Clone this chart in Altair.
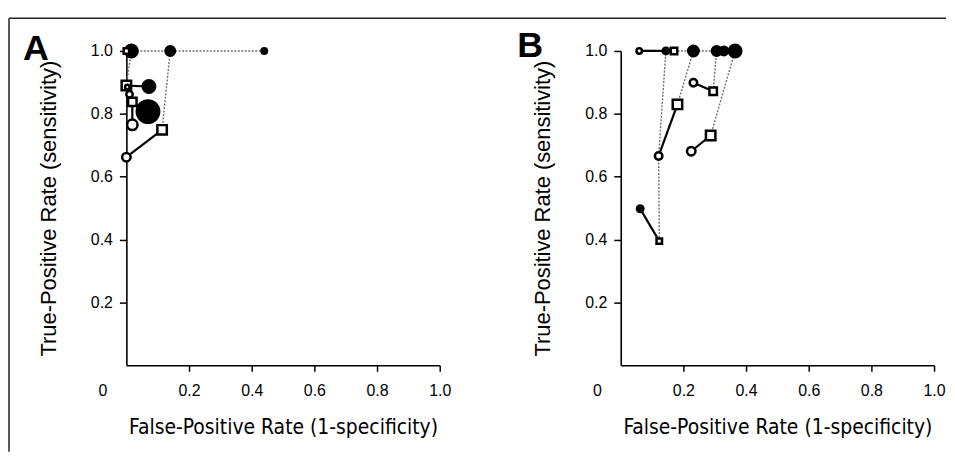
import altair as alt
import pandas as pd

# ---------------- Panel A ----------------
a_x = [0.440, 0.140, 0.016, 0.069, 0.072, 0.000, 0.000, 0.003, 0.019, 0.010, 0.019, 0.114, 0.000]
a_y = [1.000, 1.000, 1.000, 0.807, 0.887, 1.000, 0.890, 0.885, 0.838, 0.862, 0.765, 0.749, 0.662]
a_shape = ["circle", "circle", "circle", "circle", "circle", "square", "square", "circle",
           "square", "circle", "circle", "square", "circle"]
a_fill = ["black", "black", "black", "black", "black", "white", "white", "white",
          "white", "white", "white", "white", "white"]
a_diam = [8, 12, 15, 25, 15, 8, 12, 7, 11, 9, 13, 12, 11]

a_seg_x1 = [0.000, 0.114, 0.000, 0.000, 0.019, 0.000]
a_seg_y1 = [0.662, 0.749, 1.000, 0.890, 0.765, 0.890]
a_seg_x2 = [0.114, 0.140, 0.440, 0.016, 0.019, 0.072]
a_seg_y2 = [0.749, 1.000, 1.000, 1.000, 0.838, 0.887]
a_seg_style = ["solid", "dotted", "dotted", "dotted", "solid", "solid"]

# ---------------- Panel B ----------------
b_x = [0.062, 0.144, 0.232, 0.306, 0.329, 0.365, 0.059, 0.170, 0.123, 0.121, 0.181, 0.232, 0.295, 0.225, 0.287]
b_y = [0.498, 1.000, 1.000, 1.000, 1.000, 1.000, 1.000, 1.000, 0.395, 0.666, 0.830, 0.899, 0.872, 0.681, 0.731]
b_shape = ["circle", "circle", "circle", "circle", "circle", "circle", "circle", "square",
           "square", "circle", "square", "circle", "square", "circle", "square"]
b_fill = ["black", "black", "black", "black", "black", "black", "white", "white",
          "white", "white", "white", "white", "white", "white", "white"]
b_diam = [9, 9, 13, 12, 11, 15, 8, 9, 8, 10, 12, 10, 10, 11, 12]

b_seg_x1 = [0.062, 0.123, 0.121, 0.121, 0.181, 0.232, 0.295, 0.225, 0.287, 0.059, 0.170]
b_seg_y1 = [0.498, 0.395, 0.666, 0.666, 0.830, 0.899, 0.872, 0.681, 0.731, 1.000, 1.000]
b_seg_x2 = [0.123, 0.121, 0.144, 0.181, 0.232, 0.295, 0.306, 0.287, 0.365, 0.170, 0.365]
b_seg_y2 = [0.395, 0.666, 1.000, 0.830, 1.000, 0.872, 1.000, 0.731, 1.000, 1.000, 1.000]
b_seg_style = ["solid", "dotted", "dotted", "solid", "dotted", "solid", "dotted", "solid", "dotted", "solid", "dotted"]

x_ticks = [0.0, 0.2, 0.4, 0.6, 0.8, 1.0]
y_ticks = [0.2, 0.4, 0.6, 0.8, 1.0]
x_title = "False-Positive Rate (1-specificity)"
y_title = "True-Positive Rate (sensitivity)"
panel_letters = ["A", "B"]

W, H = 315, 316
STROKE = 2.5
LABEL_FONT = "Liberation Sans"
LABEL_SIZE = 16


def panel(px, py, pshape, pfill, pdiam, sx1, sy1, sx2, sy2, sstyle, letter, letter_y, frame):
    pts = pd.DataFrame({
        "x": px, "y": py, "shape": pshape, "fill": pfill,
        "size": [max(d - STROKE, 1) ** 2 for d in pdiam],
        "order": list(range(len(px))),
    })
    segs = pd.DataFrame({"x": sx1, "y": sy1, "x2": sx2, "y2": sy2, "style": sstyle})

    xscale = alt.Scale(domain=[0, 1], nice=False, zero=False)
    yscale = alt.Scale(domain=[0, 1], nice=False, zero=False)

    xaxis = alt.Axis(
        values=x_ticks, title=x_title,
        labelExpr="datum.value == 0 ? '0' : format(datum.value, '.1f')",
        labelOffset={"condition": {"test": "datum.value === 0", "value": -24}, "value": 0},
        tickOpacity={"condition": {"test": "datum.value === 0", "value": 0}, "value": 1},
        labelFont=LABEL_FONT, labelFontSize=LABEL_SIZE, labelColor="black", labelPadding=11,
        labelFlush=False, labelOverlap=False,
        titleFont="Liberation Sans Narrow, DejaVu Sans Condensed, Liberation Sans",
        titleFontSize=21, titleFontWeight="normal", titleColor="black", titlePadding=19,
        tickSize=6, tickWidth=1.5, tickColor="black",
        domainWidth=1.6, domainColor="black", grid=False,
    )
    yaxis = alt.Axis(
        values=y_ticks, format=".1f", title=y_title,
        labelFont=LABEL_FONT, labelFontSize=LABEL_SIZE, labelColor="black", labelPadding=7,
        labelFlush=False, labelOverlap=False,
        titleFont="Liberation Sans", titleFontSize=22, titleFontWeight="normal",
        titleColor="black", titlePadding=30,
        tickSize=7, tickWidth=1.5, tickColor="black",
        domainWidth=1.6, domainColor="black", grid=False,
    )

    base_seg = alt.Chart(segs)
    dotted = base_seg.transform_filter(alt.datum.style == "dotted").mark_rule(
        color="#707070", strokeWidth=1.4, strokeDash=[2, 1.5]
    ).encode(
        x=alt.X("x:Q", scale=xscale, axis=xaxis),
        y=alt.Y("y:Q", scale=yscale, axis=yaxis),
        x2="x2:Q", y2="y2:Q",
    )
    solid = base_seg.transform_filter(alt.datum.style == "solid").mark_rule(
        color="black", strokeWidth=2.2
    ).encode(
        x=alt.X("x:Q", scale=xscale, axis=xaxis),
        y=alt.Y("y:Q", scale=yscale, axis=yaxis),
        x2="x2:Q", y2="y2:Q",
    )
    points = alt.Chart(pts).mark_point(
        filled=True, stroke="black", strokeWidth=STROKE, opacity=1
    ).encode(
        x=alt.X("x:Q", scale=xscale, axis=xaxis),
        y=alt.Y("y:Q", scale=yscale, axis=yaxis),
        shape=alt.Shape("shape:N", scale=None),
        fill=alt.Fill("fill:N", scale=None),
        size=alt.Size("size:Q", scale=None),
        order=alt.Order("order:Q"),
    )
    lab = alt.Chart(pd.DataFrame({"label": [letter]})).mark_text(
        font="Liberation Sans", fontSize=36, fontWeight="bold", align="left",
        baseline="alphabetic", color="black"
    ).encode(x=alt.value(-104), y=alt.value(letter_y), text="label:N")

    layers = [dotted, solid, points, lab]
    if frame:
        fr = pd.DataFrame({"k": [0]})
        top = alt.Chart(fr).mark_rule(color="#222222", strokeWidth=1.5).encode(
            x=alt.value(-118), x2=alt.value(824), y=alt.value(-33))
        left = alt.Chart(fr).mark_rule(color="#222222", strokeWidth=1.5).encode(
            x=alt.value(-118), y=alt.value(-33), y2=alt.value(403))
        layers = layers + [top, left]
    return alt.layer(*layers).properties(width=W, height=H)


chart_a = panel(a_x, a_y, a_shape, a_fill, a_diam, a_seg_x1, a_seg_y1, a_seg_x2, a_seg_y2,
                a_seg_style, panel_letters[0], 9, True)
chart_b = panel(b_x, b_y, b_shape, b_fill, b_diam, b_seg_x1, b_seg_y1, b_seg_x2, b_seg_y2,
                b_seg_style, panel_letters[1], 6, False)

chart = alt.hconcat(chart_a, chart_b, spacing=182, bounds="flush").properties(
    padding={"left": 0, "top": 8, "right": 0, "bottom": 0},
    background="white",
).configure_view(stroke=None).configure_axis(
    labelFont=LABEL_FONT, labelFontSize=LABEL_SIZE, labelColor="black"
)

chart.save("out.html", embed_options={"renderer": "svg", "actions": False})
